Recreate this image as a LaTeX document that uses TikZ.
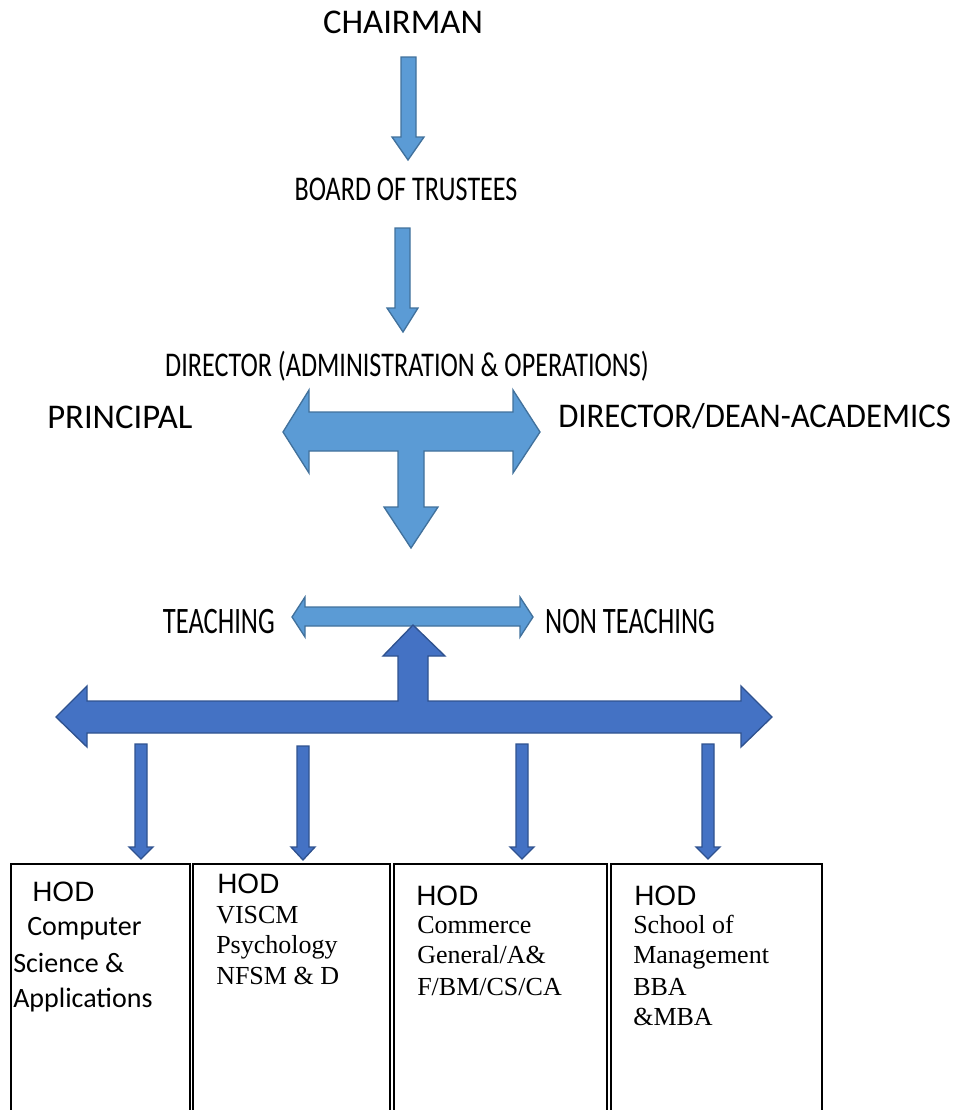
\documentclass[tikz,border=0pt]{standalone}
\usepackage{fontspec}
\setmainfont{Liberation Serif}
\newfontfamily\calibrifont{Carlito}
\newfontfamily\arialfont{Liberation Sans}
\definecolor{lightfill}{HTML}{5B9BD5}
\definecolor{lightline}{HTML}{41719C}
\definecolor{darkfill}{HTML}{4472C4}
\definecolor{darkline}{HTML}{2F528F}
\begin{document}
\begin{tikzpicture}[x=0.75pt,y=-0.75pt,
    title/.style={inner sep=0pt,font=\calibrifont\fontsize{26}{30}\selectfont},
    narrow/.style={inner sep=0pt,xscale=0.7,font=\calibrifont\fontsize{26}{30}\selectfont},
    staff/.style={inner sep=0pt,xscale=0.71,font=\calibrifont\fontsize{28}{32}\selectfont},
    hod/.style={inner sep=0pt,anchor=base west,font=\arialfont\fontsize{21}{24}\selectfont},
    dept/.style={inner sep=0pt,anchor=base west,font=\fontsize{19.5}{23}\selectfont},
    lightarrow/.style={fill=lightfill,draw=lightline,line width=1pt,line join=miter},
    darkarrow/.style={fill=darkfill,draw=darkline,line width=1pt,line join=miter},
    box/.style={draw=black,line width=1.2pt}]
            \useasboundingbox(0,0)rectangle(960,1110);
            \node[title,anchor=base](chair)at(403,33){CHAIRMAN};
            \node[narrow,anchor=base,xscale=1.075](board)at(406,200){BOARD OF TRUSTEES};
            \node[narrow,anchor=base,xscale=1.077](admin)at(407,376){DIRECTOR (ADMINISTRATION \& OPERATIONS)};
            \node[title,anchor=base west](principal)at(47,428){PRINCIPAL};
            \node[title,anchor=base west,xscale=0.945](dean)at(558,427){DIRECTOR/DEAN-ACADEMICS};
            \node[staff,anchor=base east](teach)at(275,633){TEACHING};
            \node[staff,anchor=base west](nonteach)at(545,633){NON TEACHING};
            % block arrows
            \draw[lightarrow](401,57)--(416,57)--(416,137)--(424,137)--(408,160)--(392,137)--(401,137)--cycle;
            \draw[lightarrow](395,228)--(410,228)--(410,308)--(418,308)--(403,332)--(387,308)--(395,308)--cycle;
            \draw[lightarrow](283,432)--(309,390)--(309,412)--(513,412)--(513,390)--(540,432)--(513,473)--(513,451)
                --(424,451)--(424,507)--(438,507)--(411,548)--(384,507)--(398,507)--(398,451)--(309,451)--(309,473)--cycle;
            \draw[lightarrow](292,617)--(305,597)--(305,607)--(520,607)--(520,597)--(533,617)--(520,637)--(520,626)
                --(305,626)--(305,637)--cycle;
            \draw[darkarrow](56,717)--(87,686)--(87,701)--(398,701)--(398,656)--(383,656)--(413,625)--(445,656)
                --(428,656)--(428,701)--(741,701)--(741,686)--(772,717)--(741,747)--(741,733)--(87,733)--(87,747)--cycle;
            \draw[darkarrow](135,744)--++(12,0)--++(0,103)--++(6,0)--++(-12,12)--++(-12,-12)--++(6,0)--cycle;
            \draw[darkarrow](297,746)--++(12,0)--++(0,101)--++(6,0)--++(-12,13)--++(-12,-13)--++(6,0)--cycle;
            \draw[darkarrow](516,744)--++(12,0)--++(0,103)--++(6,0)--++(-12,12)--++(-12,-12)--++(6,0)--cycle;
            \draw[darkarrow](702,744)--++(12,0)--++(0,103)--++(6,0)--++(-12,12)--++(-12,-12)--++(6,0)--cycle;
            % departments
            \draw[box](11,864)rectangle(190,1120);
            \draw[box](193,864)rectangle(390,1120);
            \draw[box](394,864)rectangle(607,1120);
            \draw[box](611,864)rectangle(822,1120);
            \node[hod](h1)at(32,901){HOD};
            \node[hod,font=\calibrifont\fontsize{21}{24}\selectfont](c1)at(27,935){Computer};
            \node[hod,font=\calibrifont\fontsize{21}{24}\selectfont](c2)at(13,972){Science \&};
            \node[hod,font=\calibrifont\fontsize{21}{24}\selectfont](c3)at(13,1007){Applications};
            \node[hod](h2)at(217,893){HOD};
            \node[dept](v1)at(216,923){VISCM};
            \node[dept](v2)at(216,953){Psychology};
            \node[dept](v3)at(216,984){NFSM \& D};
            \node[hod](h3)at(416,905){HOD};
            \node[dept](m1)at(417,933){Commerce};
            \node[dept](m2)at(417,963){General/A\&};
            \node[dept](m3)at(417,995){F/BM/CS/CA};
            \node[hod](h4)at(634,905){HOD};
            \node[dept](s1)at(633,933){School of};
            \node[dept](s2)at(633,963){Management};
            \node[dept](s3)at(633,995){BBA};
            \node[dept](s4)at(633,1025){\&MBA};
        \end{tikzpicture}
\end{document}
